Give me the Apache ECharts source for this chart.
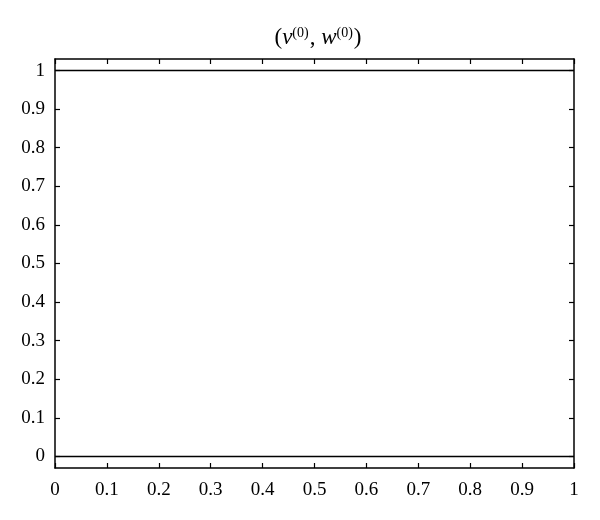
<!DOCTYPE html>
<html><head><meta charset="utf-8">
<script src="https://cdn.jsdelivr.net/npm/echarts@6/dist/echarts.min.js"></script>
<style>html,body{margin:0;padding:0;background:#fff}#c{width:600px;height:520px}</style>
</head><body><div id="c"></div>
<script>
const xValues = [0, 1];
const vSeries = [0, 0];
const wSeries = [1, 1];
const xTicks = [0, 0.1, 0.2, 0.3, 0.4, 0.5, 0.6, 0.7, 0.8, 0.9, 1];
const yTicks = [0, 0.1, 0.2, 0.3, 0.4, 0.5, 0.6, 0.7, 0.8, 0.9, 1];

const font = 'Liberation Serif, DejaVu Serif, serif';
const chart = echarts.init(document.getElementById('c'));
const axisLine = {show: true, onZero: false, lineStyle: {color: '#000', width: 1.5}};
const tick = {show: true, inside: true, length: 5, lineStyle: {color: '#000', width: 1.2}};
const fmt = v => String(+(+v).toFixed(1));
function xa(pos, labels) {
  return {type: 'value', position: pos, min: 0, max: 1,
    axisLine, axisTick: {...tick, customValues: xTicks},
    axisLabel: {show: labels, color: '#000', fontFamily: font, fontSize: 19, margin: 13,
      customValues: xTicks, formatter: fmt},
    splitLine: {show: false}};
}
function ya(pos, labels) {
  return {type: 'value', position: pos, min: -0.03, max: 1.03,
    axisLine, axisTick: {...tick, customValues: yTicks},
    axisLabel: {show: labels, color: '#000', fontFamily: font, fontSize: 19, margin: 10,
      customValues: yTicks, formatter: fmt},
    splitLine: {show: false}};
}
chart.setOption({
  animation: false,
  title: {
    text: '{p|(}{i|ν}{s|(0)}{p|, }{i|w}{s|(0)}{p|)}',
    left: 313, top: 21, textAlign: 'center',
    textStyle: {rich: {
      p: {fontFamily: font, fontSize: 23, fontWeight: 'normal', color: '#000'},
      i: {fontFamily: font, fontSize: 23, fontStyle: 'italic', fontWeight: 'normal', color: '#000'},
      s: {fontFamily: font, fontSize: 14, fontWeight: 'normal', color: '#000', verticalAlign: 'top', padding: [0, 1, 7, 0]}
    }}
  },
  grid: {left: 55, right: 26, top: 59, bottom: 52, containLabel: false},
  xAxis: [xa('bottom', true), xa('top', false)],
  yAxis: [ya('left', true), ya('right', false)],
  series: [
    {name: 'v', type: 'line', data: xValues.map((x, i) => [x, vSeries[i]]), showSymbol: false,
      lineStyle: {color: '#000', width: 1.5}},
    {name: 'w', type: 'line', data: xValues.map((x, i) => [x, wSeries[i]]), showSymbol: false,
      lineStyle: {color: '#000', width: 1.5}}
  ]
});
</script></body></html>
